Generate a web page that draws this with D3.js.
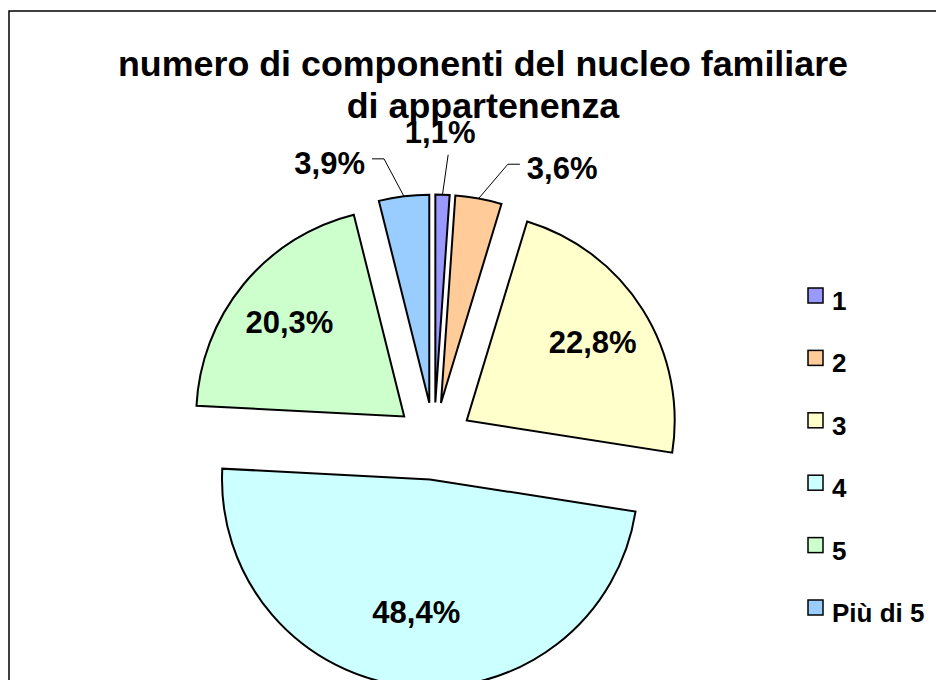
<!DOCTYPE html>
<html>
<head>
<meta charset="utf-8">
<script src="https://cdn.jsdelivr.net/npm/d3@7"></script>
<style>
  body { margin: 0; background: #fff; }
  text { font-family: "Liberation Sans", Arial, sans-serif; font-weight: bold; }
</style>
</head>
<body>
<svg id="chart" width="936" height="680"></svg>
<script>
// chart data
const categories = ["1", "2", "3", "4", "5", "Più di 5"];
const percentages = [1.1, 3.6, 22.8, 48.4, 20.3, 3.9];
const sliceColors = ["#9999FF", "#FFCC99", "#FFFFCC", "#CCFFFF", "#CCFFCC", "#99CCFF"];
const titleLines = ["numero di componenti del nucleo familiare", "di appartenenza"];

const data = categories.map((c, i) => ({ name: c, value: percentages[i], color: sliceColors[i] }));

// layout
var cx = 434,
  cy = 441,
  radius = 208,
  explode = 38.6;

var fmt = (v) => d3.format(".1f")(v).replace(".", ",") + "%";

var svg = d3.select("#chart");

// frame of the chart area (runs off the right and bottom edges)
svg
  .append("rect")
  .attr("x", 9)
  .attr("y", 11)
  .attr("width", 1000)
  .attr("height", 1000)
  .attr("fill", "none")
  .attr("stroke", "#000")
  .attr("stroke-width", 1.5);

// title
svg
  .append("g")
  .selectAll("text")
  .data(titleLines)
  .enter()
  .append("text")
  .attr("x", 483)
  .attr("y", (d, i) => 76 + i * 42)
  .attr("text-anchor", "middle")
  .attr("font-size", 35.8)
  .text((d) => d);

var pie = d3.pie().sort(null).value((d) => d.value);
var arcs = pie(data);

var arc = d3.arc().innerRadius(0).outerRadius(radius);

function mid(a) {
  return (a.startAngle + a.endAngle) / 2;
}
function offset(a, dist, ang) {
  var m = ang === undefined ? mid(a) : ang;
  return [Math.sin(m) * dist, -Math.cos(m) * dist];
}

var pieG = svg.append("g").attr("transform", "translate(" + cx + "," + cy + ")");

var slices = pieG
  .selectAll("g.slice")
  .data(arcs)
  .enter()
  .append("g")
  .attr("class", "slice")
  .attr("transform", (a) => "translate(" + offset(a, explode) + ")");

slices
  .append("path")
  .attr("d", arc)
  .attr("fill", (a) => a.data.color)
  .attr("stroke", "#000")
  .attr("stroke-width", 2)
  .attr("stroke-linejoin", "miter");

// labels inside the large slices
var isSmall = (a) => a.value < 10;

slices
  .filter((a) => !isSmall(a))
  .append("text")
  .attr("transform", (a) => {
    var f = a.value > 40 ? 0.64 : 0.715;
    return "translate(" + offset(a, radius * f) + ")";
  })
  .attr("dy", "0.36em")
  .attr("text-anchor", "middle")
  .attr("font-size", 31)
  .text((a) => fmt(a.value));

// labels outside the small slices, with leader lines
var small = slices.filter(isSmall);

small.each(function (a) {
  var g = d3.select(this);
  var m = mid(a);
  if (m > Math.PI) m -= 2 * Math.PI;
  var start = offset(a, radius);
  var elbow = offset(a, radius + 40, m * 1.5);
  var above = Math.abs(Math.sin(m * 1.5)) < 0.1;
  var side = Math.sin(m) >= 0 ? 1 : -1;
  var pts = [start, elbow];
  if (!above) pts.push([elbow[0] + side * 12, elbow[1]]);

  g.append("path")
    .attr("d", d3.line()(pts))
    .attr("fill", "none")
    .attr("stroke", "#000")
    .attr("stroke-width", 1);

  var last = pts[pts.length - 1];
  g.append("text")
    .attr("x", above ? last[0] - 8 : last[0] + side * 7)
    .attr("y", above ? last[1] - 12 : last[1] + 15)
    .attr("text-anchor", above ? "middle" : side > 0 ? "start" : "end")
    .attr("font-size", 31)
    .text(fmt(a.value));
});

// legend
var legend = svg
  .append("g")
  .selectAll("g")
  .data(data)
  .enter()
  .append("g")
  .attr("transform", (d, i) => "translate(808," + (288 + i * 62.4) + ")");

legend
  .append("rect")
  .attr("width", 15)
  .attr("height", 15)
  .attr("fill", (d) => d.color)
  .attr("stroke", "#000")
  .attr("stroke-width", 1.5);

legend
  .append("text")
  .attr("x", 24)
  .attr("y", 22)
  .attr("font-size", 26)
  .text((d) => d.name);
</script>
</body>
</html>
